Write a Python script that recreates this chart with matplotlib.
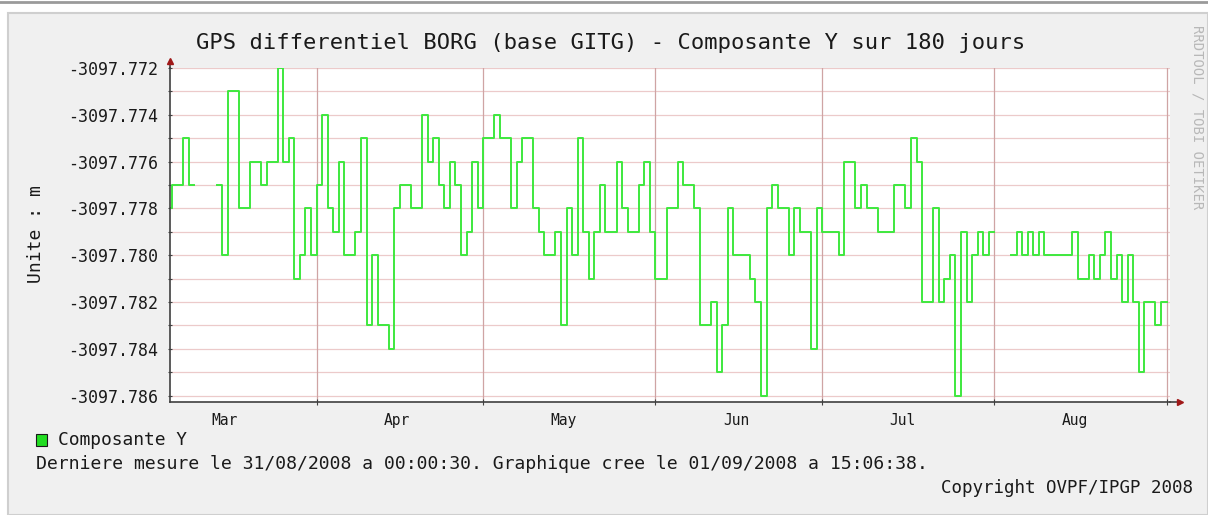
import datetime as dt
import numpy as np
import matplotlib
matplotlib.use("Agg")
import matplotlib.pyplot as plt
from matplotlib.patches import Rectangle
from matplotlib.lines import Line2D

# daily readings, in mm below -3097 m (nan = no data), first day 2008-03-05
first_day = dt.datetime(2008, 3, 5)
nan = np.nan
mm = [
    778, 777, 777, 775, 777, nan, nan, nan, nan, 777,
    780, 773, 773, 778, 778, 776, 776, 777, 776, 776,
    772, 776, 775, 781, 780, 778, 780, 777, 774, 778,
    779, 776, 780, 780, 779, 775, 783, 780, 783, 783,
    784, 778, 777, 777, 778, 778, 774, 776, 775, 777,
    778, 776, 777, 780, 779, 776, 778, 775, 775, 774,
    775, 775, 778, 776, 775, 775, 778, 779, 780, 780,
    779, 783, 778, 780, 775, 779, 781, 779, 777, 779,
    779, 776, 778, 779, 779, 777, 776, 779, 781, 781,
    778, 778, 776, 777, 777, 778, 783, 783, 782, 785,
    783, 778, 780, 780, 780, 781, 782, 786, 778, 777,
    778, 778, 780, 778, 779, 779, 784, 778, 779, 779,
    779, 780, 776, 776, 778, 777, 778, 778, 779, 779,
    779, 777, 777, 778, 775, 776, 782, 782, 778, 782,
    781, 780, 786, 779, 782, 780, 779, 780, 779, nan,
    nan, nan, 780, 779, 780, 779, 780, 779, 780, 780,
    780, 780, 780, 779, 781, 781, 780, 781, 780, 779,
    781, 780, 782, 780, 782, 785, 782, 782, 783, 782,
]
month_names = ["Mar", "Apr", "May", "Jun", "Jul", "Aug"]
y_grid_mm = list(range(772, 787))

title = "GPS differentiel BORG (base GITG) - Composante Y sur 180 jours"
ylabel = "Unite : m"
legend_label = "Composante Y"
info_line = ("Derniere mesure le 31/08/2008 a 00:00:30. "
             "Graphique cree le 01/09/2008 a 15:06:38.")
copyright_line = "Copyright OVPF/IPGP 2008"
watermark = "RRDTOOL / TOBI OETIKER"

end_time = dt.datetime(2008, 9, 1, 15, 6, 38)
start_time = end_time - dt.timedelta(days=180)

values = -3097.0 - np.array(mm, dtype=float) / 1000.0
days = [first_day + dt.timedelta(days=i) for i in range(len(values) + 1)]
values_step = np.append(values, values[-1])

W, H = 1208, 515
MONO = "DejaVu Sans Mono"
line_green = "#3ee83e"
grid_col = "#eccaca"
mgrid_col = "#cfa4a4"
axis_col = "#404040"
arrow_col = "#a01818"
text_col = "#1a1a1a"

fig = plt.figure(figsize=(W / 100, H / 100), dpi=100)
fig.patch.set_facecolor("white")

def fx(px):
    return px / W

def fy(py):
    return 1 - py / H

# rrdtool-like frame, kept behind the axes
fig.add_artist(Line2D([0, 1], [fy(1.5), fy(1.5)], color="#9a9a9a", lw=2,
                      zorder=-2))
fig.add_artist(Rectangle((fx(8), 0), 1 - fx(8), fy(13), facecolor="#f0f0f0",
                         edgecolor="#cfcfcf", lw=1.5, zorder=-2))

ax = fig.add_axes([fx(170), fy(402), fx(1170) - fx(170), fy(68) - fy(402)])
ax.set_facecolor("white")

ax.plot(days, values_step, drawstyle="steps-post", color=line_green, lw=1.4,
        zorder=3)

ax.set_xlim(start_time, end_time)
ax.set_ylim(-3097.0 - 0.786269, -3097.772)

# y grid every mm, labels every 2 mm
yt = [-3097.0 - v / 1000.0 for v in y_grid_mm]
ax.set_yticks(yt)
ax.set_yticklabels([f"{t:.3f}" if v % 2 == 0 else "" for t, v in zip(yt, y_grid_mm)],
                   family=MONO, fontsize=12, color=text_col)
ax.tick_params(axis="y", length=3, direction="inout", color=axis_col, pad=7)

# month grid lines and mid-month labels
month_starts = [dt.datetime(2008, m, 1) for m in range(4, 10)]
label_pos = [dt.datetime(2008, m, 15, 12) for m in range(3, 9)]
ax.set_xticks(month_starts)
ax.set_xticklabels([""] * len(month_starts))
ax.set_xticks(label_pos, minor=True)
ax.set_xticklabels(month_names, minor=True, family=MONO, fontsize=10.5,
                   color=text_col)
ax.tick_params(axis="x", which="major", length=4, direction="inout", color=axis_col)
ax.tick_params(axis="x", which="minor", length=0, pad=8)

ax.grid(False)
for t in yt:
    ax.axhline(t, color=grid_col, lw=0.9, zorder=1)
for m in month_starts:
    ax.axvline(m, color=mgrid_col, lw=0.9, zorder=1)

for s in ["top", "right"]:
    ax.spines[s].set_visible(False)
for s in ["left", "bottom"]:
    ax.spines[s].set_color(axis_col)
    ax.spines[s].set_linewidth(1.2)
    ax.spines[s].set_zorder(4)

# axis extensions and arrows
ax.add_line(Line2D([1.0, 1.01], [0, 0], transform=ax.transAxes, color=axis_col,
                   lw=1.2, clip_on=False))
ax.add_line(Line2D([0, 0], [1.0, 1.02], transform=ax.transAxes, color=axis_col,
                   lw=1.2, clip_on=False))
ax.plot([1.01], [0], marker=">", ms=5, color=arrow_col, transform=ax.transAxes,
        clip_on=False)
ax.plot([0], [1.02], marker="^", ms=5, color=arrow_col, transform=ax.transAxes,
        clip_on=False)

# texts
fig.text(fx(611), fy(43), title, ha="center", va="center", family=MONO,
         fontsize=15.9, color=text_col)
fig.text(fx(36), fy(234), ylabel, ha="center", va="center", rotation=90,
         family=MONO, fontsize=13, color=text_col)
fig.add_artist(Rectangle((fx(36), fy(446)), fx(11), fy(434) - fy(446),
                         facecolor="#22dd22", edgecolor=text_col, lw=0.8))
fig.text(fx(58), fy(440), legend_label, ha="left", va="center", family=MONO,
         fontsize=12.9, color=text_col)
fig.text(fx(36), fy(464), info_line, ha="left", va="center", family=MONO,
         fontsize=13.05, color=text_col)
fig.text(fx(1193), fy(488), copyright_line, ha="right", va="center", family=MONO,
         fontsize=12.6, color=text_col)
fig.text(fx(1197), fy(117), watermark, ha="center", va="center", rotation=270,
         family=MONO, fontsize=10, color="#b8b8b8")

fig.savefig("out.png", dpi=100, facecolor=fig.get_facecolor())
